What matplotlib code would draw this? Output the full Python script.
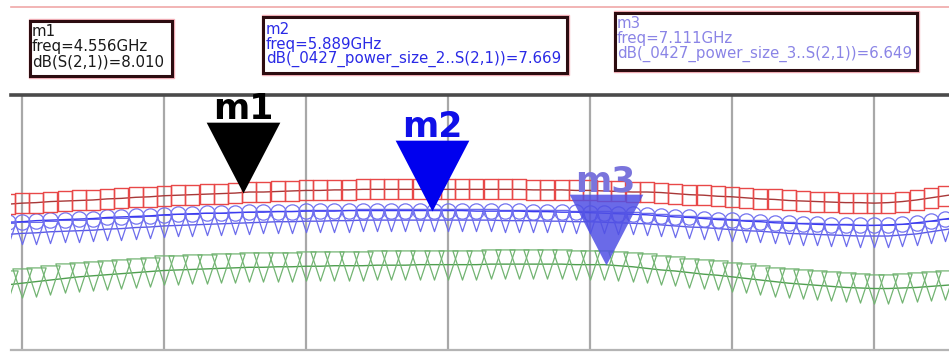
import numpy as np
import matplotlib
matplotlib.use("Agg")
import matplotlib.pyplot as plt
from matplotlib.path import Path
from matplotlib.patches import Rectangle
from matplotlib.lines import Line2D

# ---- data -----------------------------------------------------------------
freq_ghz = [round(2.9 + 0.1 * i, 1) for i in range(68)]

s21_db = [
    7.79, 7.81, 7.82, 7.84, 7.85, 7.86, 7.87, 7.89, 7.90, 7.92,
    7.93, 7.95, 7.96, 7.97, 7.98, 7.99, 8.00, 8.02, 8.02, 8.03,
    8.04, 8.05, 8.05, 8.06, 8.06, 8.07, 8.07, 8.07, 8.07, 8.07,
    8.07, 8.07, 8.07, 8.07, 8.07, 8.07, 8.07, 8.06, 8.06, 8.06,
    8.05, 8.05, 8.04, 8.03, 8.02, 8.02, 8.01, 7.99, 7.97, 7.96,
    7.94, 7.93, 7.91, 7.89, 7.88, 7.86, 7.85, 7.84, 7.83, 7.82,
    7.82, 7.81, 7.82, 7.84, 7.87, 7.91, 7.95, 7.99,
]

power_size_2_db = [
    7.45, 7.46, 7.48, 7.49, 7.50, 7.51, 7.52, 7.54, 7.55, 7.56,
    7.57, 7.59, 7.60, 7.61, 7.62, 7.62, 7.63, 7.64, 7.64, 7.65,
    7.65, 7.66, 7.66, 7.66, 7.67, 7.67, 7.67, 7.67, 7.67, 7.67,
    7.67, 7.67, 7.67, 7.66, 7.66, 7.66, 7.66, 7.65, 7.65, 7.64,
    7.64, 7.63, 7.62, 7.61, 7.60, 7.59, 7.57, 7.55, 7.54, 7.52,
    7.50, 7.49, 7.47, 7.46, 7.44, 7.43, 7.42, 7.41, 7.40, 7.40,
    7.39, 7.39, 7.40, 7.41, 7.44, 7.47, 7.51, 7.55,
]

power_size_1_db = [
    7.22, 7.24, 7.25, 7.27, 7.28, 7.29, 7.30, 7.32, 7.33, 7.35,
    7.36, 7.38, 7.39, 7.40, 7.41, 7.42, 7.43, 7.44, 7.45, 7.46,
    7.46, 7.47, 7.47, 7.48, 7.48, 7.49, 7.49, 7.49, 7.49, 7.49,
    7.49, 7.49, 7.49, 7.49, 7.49, 7.48, 7.48, 7.48, 7.47, 7.47,
    7.46, 7.46, 7.45, 7.44, 7.43, 7.42, 7.40, 7.38, 7.36, 7.35,
    7.33, 7.31, 7.29, 7.28, 7.26, 7.24, 7.23, 7.22, 7.21, 7.20,
    7.19, 7.19, 7.19, 7.21, 7.23, 7.27, 7.31, 7.35,
]

power_size_3_db = [
    6.27, 6.30, 6.33, 6.36, 6.39, 6.42, 6.44, 6.46, 6.48, 6.50,
    6.52, 6.54, 6.55, 6.56, 6.57, 6.58, 6.59, 6.60, 6.60, 6.61,
    6.61, 6.62, 6.62, 6.63, 6.63, 6.63, 6.64, 6.64, 6.64, 6.65,
    6.65, 6.65, 6.65, 6.65, 6.66, 6.66, 6.66, 6.66, 6.66, 6.66,
    6.65, 6.65, 6.65, 6.63, 6.61, 6.58, 6.55, 6.53, 6.50, 6.47,
    6.45, 6.42, 6.39, 6.36, 6.33, 6.30, 6.28, 6.26, 6.24, 6.22,
    6.21, 6.20, 6.20, 6.21, 6.22, 6.24, 6.26, 6.28,
]

marker_names = ["m1", "m2", "m3"]
marker_freq = [4.556, 5.889, 7.111]
marker_value = [8.010, 7.669, 6.649]
marker_expr = ["dB(S(2,1))", "dB(_0427_power_size_2..S(2,1))",
               "dB(_0427_power_size_3..S(2,1))"]

# ---- figure ---------------------------------------------------------------
W, H = 949, 354
fig = plt.figure(figsize=(W / 100, H / 100), dpi=100)
fig.patch.set_facecolor("white")


def fx(px):
    return px / W


def fy(py):
    return 1 - py / H


ax_left, ax_top, ax_bottom = 11, 95, 350
ax = fig.add_axes([fx(ax_left), fy(ax_bottom), 1 - fx(ax_left),
                   fy(ax_top) - fy(ax_bottom)])
ax.set_xlim(3 - (22 - ax_left) / 142, 3 + (W - 22) / 142)
ax.set_ylim(5.04, 9.85)

ax.set_xticks(np.arange(3, 10, 1))
ax.set_yticks([])
ax.tick_params(length=0, labelbottom=False, labelleft=False)
ax.grid(axis="x", color="#a8a8a8", linewidth=1.6)
ax.set_axisbelow(True)
for side in ("left", "right"):
    ax.spines[side].set_visible(False)
ax.spines["top"].set_color("#4a4a4a")
ax.spines["top"].set_linewidth(2.6)
ax.spines["bottom"].set_color("#b4b4b4")
ax.spines["bottom"].set_linewidth(1.6)

# down-pointing triangle, taller than wide, centred on the point
tri_down = Path([(-0.33, 0.5), (0.33, 0.5), (0.0, -0.5), (-0.33, 0.5)],
                [Path.MOVETO, Path.LINETO, Path.LINETO, Path.CLOSEPOLY])
# upright open rectangle for the S21 trace
tall_box = Path([(-0.34, -0.5), (0.34, -0.5), (0.34, 0.5), (-0.34, 0.5),
                 (-0.34, -0.5)],
                [Path.MOVETO, Path.LINETO, Path.LINETO, Path.LINETO,
                 Path.CLOSEPOLY])

ax.plot(freq_ghz, power_size_3_db, color="#4f9f4f", lw=1.0,
        marker=tri_down, ms=21, mfc="none", mec="#72b472", mew=0.9)
ax.plot(freq_ghz, power_size_1_db, color="#5a5ae6", lw=1.0,
        marker=tri_down, ms=16, mfc="none", mec="#6c6cec", mew=0.9)
ax.plot(freq_ghz, power_size_2_db, color="#3a3af0", lw=1.0,
        marker="o", ms=11, mfc="none", mec="#7272f0", mew=0.9)
ax.plot(freq_ghz, s21_db, color="#a83838", lw=1.0,
        marker=tall_box, ms=14, mfc="none", mec="#e84848", mew=1.0)

# marker symbols: triangle with its tip on the trace value
tip_down = Path([(0.0, 0.0), (-0.52, 1.0), (0.52, 1.0), (0.0, 0.0)],
                [Path.MOVETO, Path.LINETO, Path.LINETO, Path.CLOSEPOLY])
sym_colors = ["#000000", "#0000ee", "#5050e4"]
sym_alpha = [1.0, 1.0, 0.85]
label_colors = ["#000000", "#1010e8", "#7a74dc"]
for name, f, v, c, a, lc in zip(marker_names, marker_freq, marker_value,
                                sym_colors, sym_alpha, label_colors):
    ax.plot([f], [v], marker=tip_down, ms=102, color=c, mec=c, alpha=a,
            mew=0, zorder=5)
    ax.annotate(name, xy=(f, v), xytext=(0, 53), textcoords="offset points",
                ha="center", va="baseline", fontsize=25, fontweight="bold",
                color=lc, zorder=6, annotation_clip=False)

# thin pink rule across the top
fig.add_artist(Line2D([fx(ax_left), 1.0], [fy(7), fy(7)], color="#f0a8a8",
                      lw=1.2, transform=fig.transFigure))

# marker readout boxes
boxes = [(30, 21, 172, 76), (263, 17, 567, 73), (615, 13, 917, 70)]
text_x = [32, 266, 617]
text_rows = [(31, 46, 62), (29, 44, 59), (23, 38, 54)]
text_colors = ["#1a1a1a", "#2a2ae6", "#8a84e6"]
for (x0, y0, x1, y1), tx, rows, tc, name, f, v, expr in zip(
        boxes, text_x, text_rows, text_colors, marker_names, marker_freq,
        marker_value, marker_expr):
    fig.add_artist(Rectangle((fx(x0 - 1.5), fy(y1 + 1.5)),
                             fx(x1 - x0 + 3), fy(y0 - 1.5) - fy(y1 + 1.5),
                             transform=fig.transFigure, fill=False,
                             edgecolor="#f4b0b8", lw=1.0))
    fig.add_artist(Rectangle((fx(x0), fy(y1)), fx(x1 - x0), fy(y0) - fy(y1),
                             transform=fig.transFigure, facecolor="white",
                             edgecolor="#2c0c10", lw=2.2))
    lines = [name, f"freq={f:.3f}GHz", f"{expr}={v:.3f}"]
    for row, s in zip(rows, lines):
        fig.text(fx(tx), fy(row), s, ha="left", va="center",
                 fontsize=10.8, color=tc, family="DejaVu Sans")

fig.savefig("out.png", dpi=100, facecolor="white")
